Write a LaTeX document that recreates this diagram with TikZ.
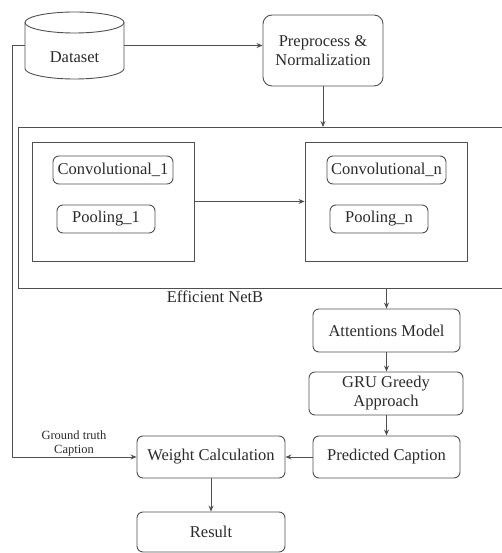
\documentclass[tikz,border=0pt]{standalone}
\usepackage{fontspec}
\setmainfont{Liberation Serif}
\usetikzlibrary{arrows.meta,positioning}
\definecolor{ln}{HTML}{505050}
\definecolor{tx}{HTML}{2A2A2A}
\begin{document}
\begin{tikzpicture}[x=1pt,y=-1pt,
  every node/.style={text=tx,font=\fontsize{16.5}{19}\selectfont},
  rbox/.style={draw=ln,line width=0.9pt,rounded corners=6pt,align=center,inner sep=0pt},
  sbox/.style={draw=ln,line width=0.9pt,inner sep=0pt},
  conn/.style={draw=ln,line width=0.9pt,-{Stealth[length=6pt,width=5pt]}},
  plain/.style={draw=ln,line width=0.9pt}]
\useasboundingbox (0,0) rectangle (502,553);
% Dataset cylinder
\draw[plain,fill=white] (25,22.5) -- (25,68.5) arc[start angle=180,end angle=360,x radius=49.5,y radius=-10.5] -- (124,22.5);
\draw[plain] (74.5,22.5) ellipse[x radius=49.5,y radius=10.5];
\node[minimum width=99pt,minimum height=67pt,inner sep=0pt] (dataset) at (74.5,45.5) {};
\node (dtext) at (74.5,57) {Dataset};
% Preprocess
\node[rbox,minimum width=120pt,minimum height=71pt,rounded corners=9pt] (pre) at (323,50.5) {Preprocess \&\\Normalization};
% Big box
\node[sbox,minimum width=492pt,minimum height=161pt,anchor=north west] (big) at (18,127) {};
\node (effl) at (215,297) {Efficient NetB};
% inner boxes
\node[sbox,minimum width=162pt,minimum height=119pt] (b1) at (113,201.5) {};
\node[sbox,minimum width=162pt,minimum height=119pt] (b2) at (386,201.5) {};
\node[rbox,minimum width=120pt,minimum height=28pt] (c1) at (113,170) {Convolutional\_1};
\node[rbox,minimum width=98pt,minimum height=28pt] (p1) at (106,219) {Pooling\_1};
\node[rbox,minimum width=119pt,minimum height=28pt] (cn) at (386.5,170) {Convolutional\_n};
\node[rbox,minimum width=98pt,minimum height=28pt] (pn) at (379,219) {Pooling\_n};
% right column
\node[rbox,minimum width=147pt,minimum height=43pt] (att) at (386.5,330.5) {Attentions Model};
\node[rbox,minimum width=154pt,minimum height=43pt] (gru) at (386,393.5) {GRU Greedy\\Approach};
\node[rbox,minimum width=147pt,minimum height=42pt] (pred) at (386.5,457) {Predicted Caption};
\node[rbox,minimum width=148pt,minimum height=42pt] (wc) at (211,457) {Weight Calculation};
\node[rbox,minimum width=148pt,minimum height=40pt] (res) at (211,532) {Result};
\node[font=\fontsize{12.5}{14}\selectfont,align=center] (gt) at (74,443) {Ground truth\\Caption};
% connectors
\coordinate (dl) at (12,45.5);
\coordinate (dd) at (12,457);
\draw[conn] (dataset.east) -- (dataset.east -| pre.west);
\draw[plain] (dataset.west) -- (dl) -- (dd);
\draw[conn] (dd) -- (wc.west);
\draw[conn] (pre.south) -- (pre.south |- big.north);
\draw[conn] (b1.east) -- (b2.west);
\draw[conn] (att.north |- big.south) -- (att.north);
\draw[conn] (att.south) -- (gru.north -| att.south);
\draw[conn] (gru.south -| pred.north) -- (pred.north);
\draw[conn] (pred.west) -- (wc.east);
\draw[conn] (wc.south) -- (res.north);
\end{tikzpicture}
\end{document}
